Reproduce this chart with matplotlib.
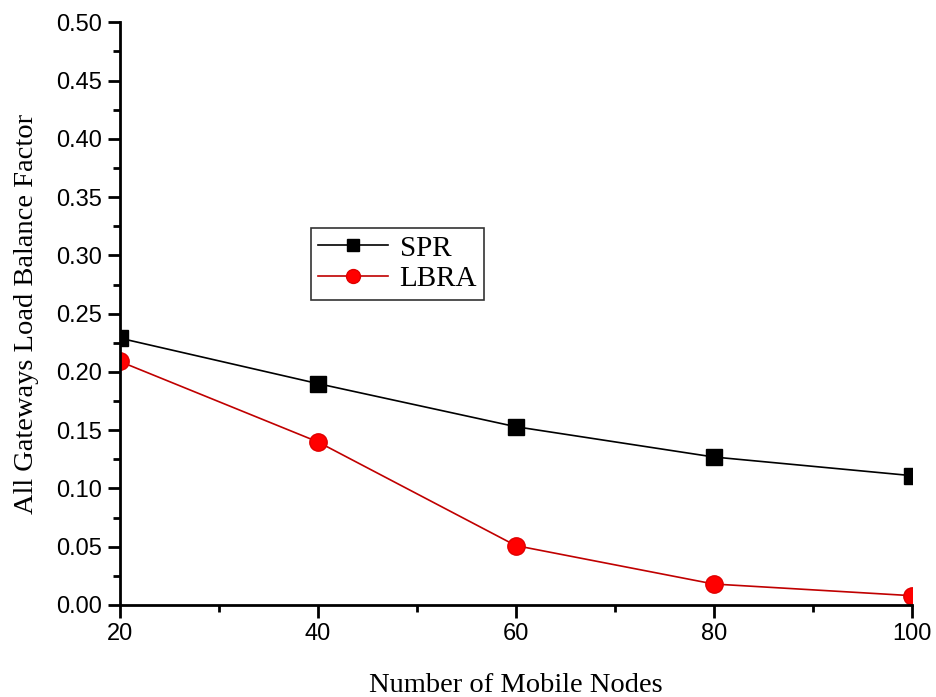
import matplotlib
matplotlib.use("Agg")
import matplotlib.pyplot as plt
from matplotlib.ticker import MultipleLocator

nodes = [20, 40, 60, 80, 100]
spr = [0.229, 0.190, 0.153, 0.127, 0.111]
lbra = [0.209, 0.140, 0.051, 0.018, 0.008]

fig = plt.figure(figsize=(9.36, 6.97), dpi=100)
ax = fig.add_axes([0.128, 0.132, 0.846, 0.836])

ax.plot(nodes, spr, color="black", lw=1.2, marker="s", ms=11.5,
        markerfacecolor="black", markeredgecolor="black", label="SPR")
ax.plot(nodes, lbra, color="#c00000", lw=1.2, marker="o", ms=12.5,
        markerfacecolor="#ff0000", markeredgecolor="#e00000", label="LBRA")

ax.set_xlim(20, 100)
ax.set_ylim(0, 0.5)
ax.xaxis.set_major_locator(MultipleLocator(20))
ax.xaxis.set_minor_locator(MultipleLocator(10))
ax.yaxis.set_major_locator(MultipleLocator(0.05))
ax.yaxis.set_minor_locator(MultipleLocator(0.025))
ax.yaxis.set_major_formatter(plt.FormatStrFormatter("%.2f"))

for s in ("top", "right"):
    ax.spines[s].set_visible(False)
for s in ("left", "bottom"):
    ax.spines[s].set_linewidth(2)

ax.tick_params(which="major", direction="out", length=9, width=2,
               labelsize=17, pad=4)
ax.tick_params(which="minor", direction="out", length=5, width=2)
for lab in ax.get_xticklabels() + ax.get_yticklabels():
    lab.set_family("Liberation Sans")

ax.set_xlabel("Number of Mobile Nodes", family="Liberation Serif",
              fontsize=20.5, labelpad=20)
ax.set_ylabel("All Gateways Load Balance Factor", family="Liberation Serif",
              fontsize=20.5, labelpad=12)

leg = ax.legend(loc="upper left", bbox_to_anchor=(0.241, 0.647),
                prop={"family": "Liberation Serif", "size": 21},
                frameon=True, fancybox=False, edgecolor="black",
                handlelength=2.4, handletextpad=0.4, borderpad=0.25,
                labelspacing=0.15, borderaxespad=0, markerscale=0.8)
leg.get_frame().set_linewidth(1.2)

fig.savefig("out.png", dpi=100)
